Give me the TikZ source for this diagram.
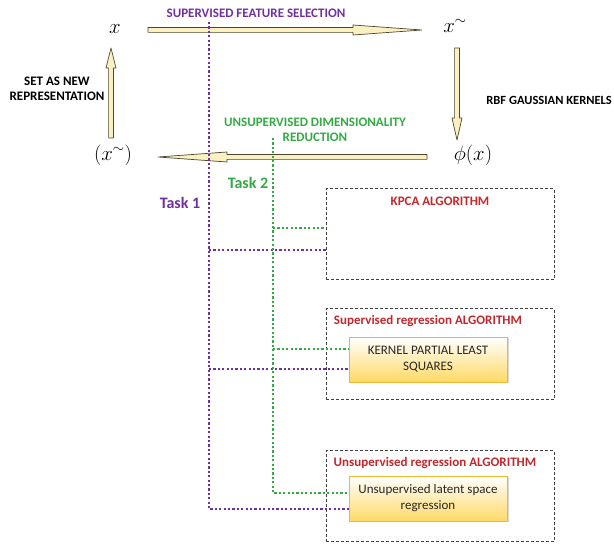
\documentclass[tikz,border=0pt]{standalone}
\usepackage{fontspec}
\setmainfont{Carlito}
\usetikzlibrary{calc,shadows}
\definecolor{purp}{HTML}{7030A0}
\definecolor{grn}{HTML}{33AA44}
\definecolor{redt}{HTML}{C0282D}
\definecolor{dashgray}{HTML}{404040}
\definecolor{arrowfill}{HTML}{FBF0C2}
\definecolor{arrowline}{HTML}{4D4530}
\definecolor{boxline}{HTML}{F0B830}
\definecolor{boxyellow}{HTML}{FFD966}
\definecolor{textdark}{HTML}{262626}
\tikzset{
  lbl/.style={font=\bfseries\fontsize{13}{15.5}\selectfont, inner sep=0pt, align=center},
  mathlbl/.style={font=\fontsize{22}{24}\selectfont, inner sep=0pt},
  fatarrow/.style={fill=arrowfill, draw=arrowline, line width=0.7pt, line join=round},
  pdot/.style={draw=purp, line width=2.6pt, dash pattern=on 2.2pt off 2.2pt},
  gdot/.style={draw=grn, line width=2.6pt, dash pattern=on 2.2pt off 2.2pt},
  algbox/.style={draw=dashgray, dash pattern=on 3pt off 2pt, line width=1pt,
    minimum width=228pt, minimum height=91pt, inner sep=0pt},
  methbox/.style={draw=boxline, line width=0.9pt, top color=white, bottom color=boxyellow,
    minimum width=158pt, minimum height=45pt, inner sep=2pt, align=center, text=textdark,
    font=\fontsize{13}{16}\selectfont,
    drop shadow={shadow xshift=1.5pt, shadow yshift=-1.5pt, fill=black!30}},
}
\newcommand\fatarr[3]{%
  \coordinate (#1-h) at ($(#2)!#3!(#1)$);
  \draw[fatarrow] ($(#1)!2.4pt!90:(#2)$) -- ($(#1-h)!2.4pt!90:(#2)$)
    -- ($(#1-h)!5pt!90:(#2)$) -- (#2) -- ($(#1-h)!5pt!-90:(#2)$)
    -- ($(#1-h)!2.4pt!-90:(#2)$) -- ($(#1)!2.4pt!-90:(#2)$) -- cycle;
}
\begin{document}
\begin{tikzpicture}[x=1pt, y=-1pt]
\useasboundingbox (0,0) rectangle (614,545);

% math labels
\node[mathlbl] (x) at (115,29) {$x$};
\node[mathlbl] (xt) at (455,26) {$x^{\sim}$};
\node[mathlbl] (phi) at (473,155) {$\phi(x)$};
\node[mathlbl] (xtp) at (113,155) {$(x^{\sim})$};

% text labels
\node[lbl, text=purp] (sfs) at (256,13) {SUPERVISED FEATURE SELECTION};
\node[lbl] (setnew) at (57,89) {SET AS NEW\\REPRESENTATION};
\node[lbl, anchor=east, font=\bfseries\fontsize{12.5}{15}\selectfont] (rbf) at (612,100) {RBF GAUSSIAN KERNELS};
\node[lbl, text=grn] (udr) at (315,130) {UNSUPERVISED DIMENSIONALITY\\REDUCTION};
\node[lbl, text=purp, font=\bfseries\fontsize{16}{18}\selectfont] (t1) at (180,203) {Task 1};
\node[lbl, text=grn, font=\bfseries\fontsize{16}{18}\selectfont] (t2) at (248,183) {Task 2};

% fat arrows
\coordinate (a1s) at (148,30); \coordinate (a1t) at (422,30);
\coordinate (a2s) at (457,48); \coordinate (a2t) at (457,140);
\coordinate (a3s) at (427,157); \coordinate (a3t) at (158,157);
\coordinate (a4s) at (111,138); \coordinate (a4t) at (111,48);
\fatarr{a1s}{a1t}{69pt}
\fatarr{a2s}{a2t}{22pt}
\fatarr{a3s}{a3t}{69pt}
\fatarr{a4s}{a4t}{20pt}

% algorithm boxes
\node[algbox] (kpca) at (440,234.5) {};
\node[algbox] (sup) at (440,354.5) {};
\node[algbox] (uns) at (440,496.5) {};
\node[lbl, text=redt] (kpcat) at (440,201) {KPCA ALGORITHM};
\node[lbl, text=redt] (supt) at (428,321) {Supervised regression ALGORITHM};
\node[lbl, text=redt] (unst) at (435,463) {Unsupervised regression ALGORITHM};

% dotted connectors
\coordinate (ptop) at (209,22);
\coordinate (gtop) at (273,138);
\coordinate (kls) at (428,359.5);
\coordinate (uls) at (428,498.5);
\coordinate (pk) at ($(kpca.west)+(0,15.5)$);
\coordinate (gk) at ($(kpca.west)+(0,-6.5)$);
\coordinate (pkp) at ($(kls)+(-79,9.5)$);
\coordinate (gkp) at ($(kls)+(-79,-10.5)$);
\coordinate (pu) at ($(uls)+(-79,10.5)$);
\coordinate (gu) at ($(uls)+(-79,-5.5)$);
\draw[pdot] (ptop) |- (pu);
\draw[pdot] (ptop |- pk) -- (pk);
\draw[pdot] (ptop |- pkp) -- (pkp);
\draw[gdot] (gtop) |- (gu);
\draw[gdot] (gtop |- gk) -- (gk);
\draw[gdot] (gtop |- gkp) -- (gkp);

% method boxes
\node[methbox] (kpls) at (kls) {KERNEL PARTIAL LEAST\\SQUARES};
\node[methbox] (ulsr) at (uls) {Unsupervised latent space\\regression};
\end{tikzpicture}
\end{document}
